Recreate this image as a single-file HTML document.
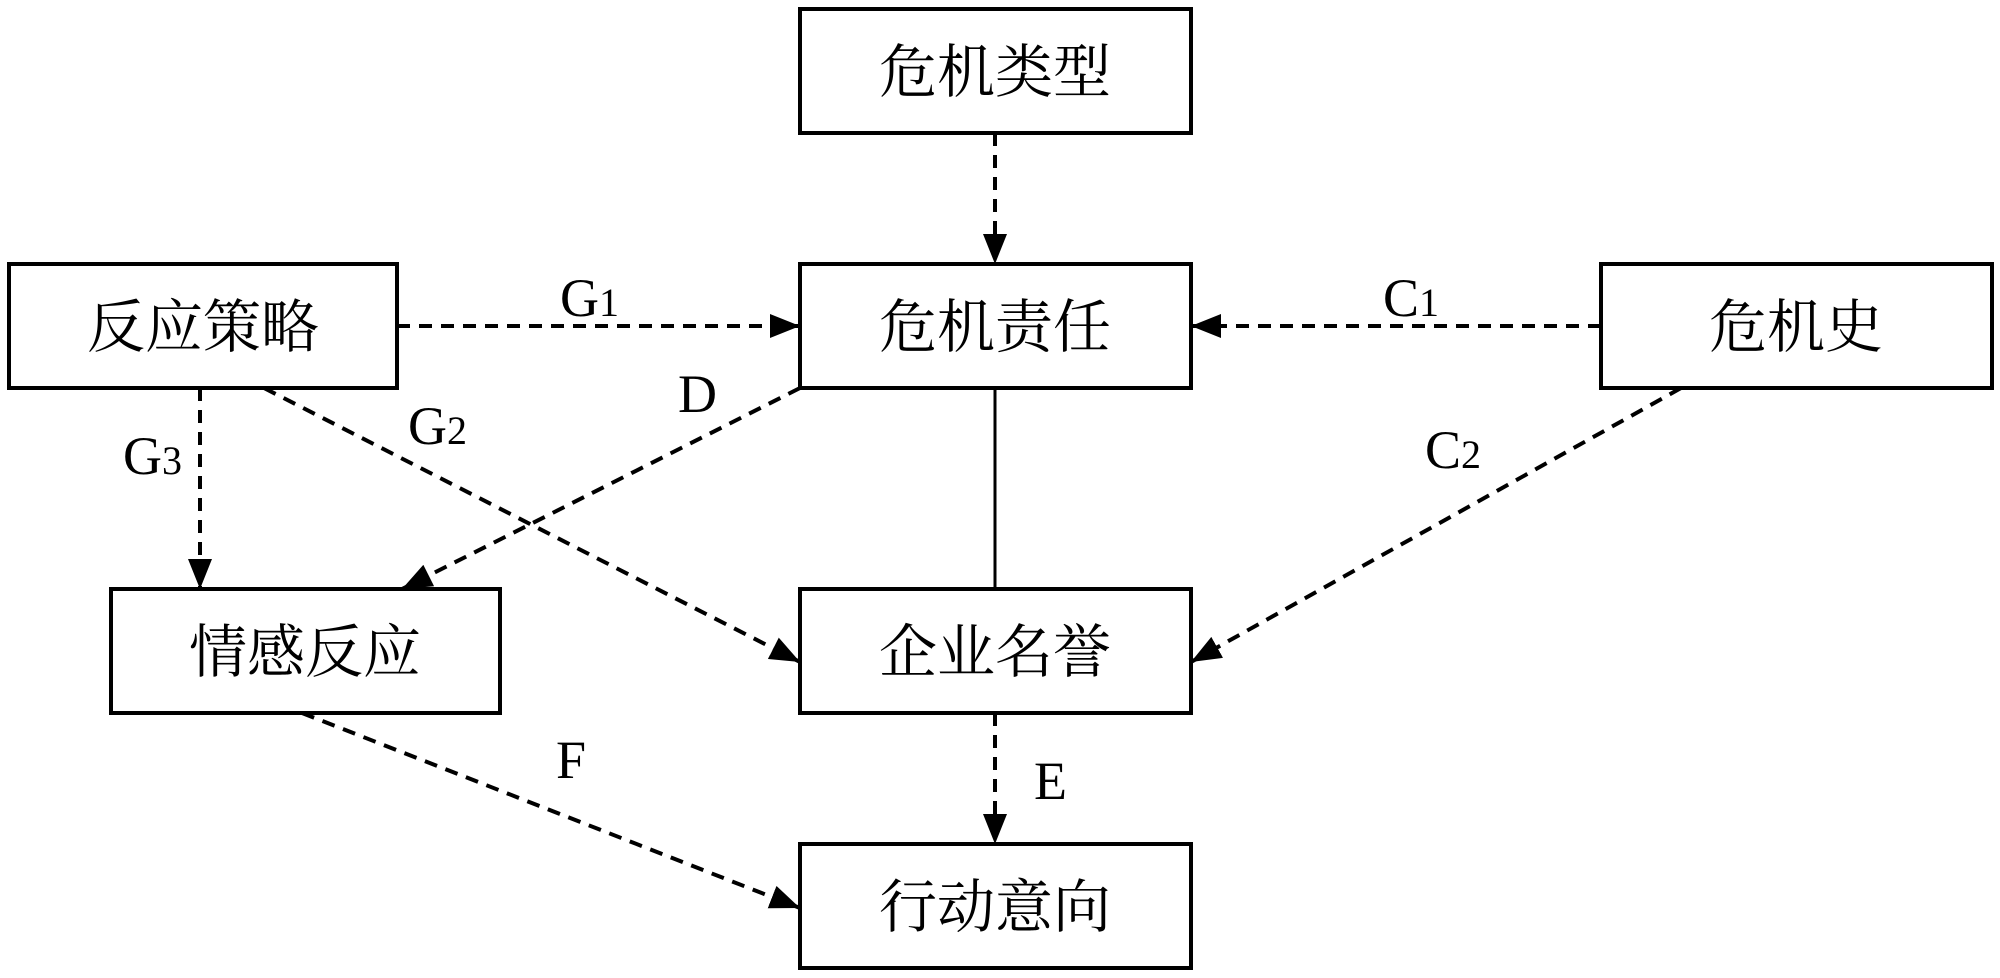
<!DOCTYPE html>
<html><head><meta charset="utf-8"><style>
html,body{margin:0;padding:0;background:#fff;}
svg{display:block;}
.cn{font-family:"Liberation Serif","Noto Serif CJK SC",serif;font-size:58px;}
.lb{font-family:"Liberation Serif",serif;font-size:54px;}
.sb{font-size:40px;}
</style></head><body>
<svg width="2000" height="978" viewBox="0 0 2000 978" xmlns="http://www.w3.org/2000/svg">
<defs>
<marker id="a" markerUnits="userSpaceOnUse" markerWidth="30" markerHeight="24" refX="30" refY="12" orient="auto">
<path d="M0,0 L30,12 L0,24 Z" fill="#000"/>
</marker>
</defs>
<g fill="#fff" stroke="#000" stroke-width="4">
<rect x="800" y="9" width="391" height="124"/>
<rect x="9" y="264" width="388" height="124"/>
<rect x="800" y="264" width="391" height="124"/>
<rect x="1601" y="264" width="391" height="124"/>
<rect x="111" y="589" width="389" height="124"/>
<rect x="800" y="589" width="391" height="124"/>
<rect x="800" y="844" width="391" height="124"/>
</g>
<g stroke="#000" stroke-width="4" stroke-dasharray="13 9" fill="none" marker-end="url(#a)">
<line x1="995" y1="133" x2="995" y2="264"/>
<line x1="397" y1="326" x2="800" y2="326"/>
<line x1="1601" y1="326" x2="1191" y2="326"/>
<line x1="200" y1="388" x2="200" y2="589"/>
<line x1="264" y1="388" x2="800" y2="662"/>
<line x1="800" y1="388" x2="402" y2="589"/>
<line x1="1681" y1="388" x2="1191" y2="662"/>
<line x1="995" y1="713" x2="995" y2="844"/>
<line x1="302" y1="713" x2="800" y2="908"/>
</g>
<line x1="995" y1="388" x2="995" y2="589" stroke="#000" stroke-width="3"/>
<g class="cn" text-anchor="middle" fill="#000">
<text x="995" y="92">危机类型</text>
<text x="203" y="347">反应策略</text>
<text x="995" y="347">危机责任</text>
<text x="1796" y="347">危机史</text>
<text x="305" y="672">情感反应</text>
<text x="995" y="672">企业名誉</text>
<text x="995" y="927">行动意向</text>
</g>
<g class="lb" fill="#000">
<text x="560" y="316">G<tspan class="sb">1</tspan></text>
<text x="1383" y="316">C<tspan class="sb">1</tspan></text>
<text x="678" y="412">D</text>
<text x="408" y="444">G<tspan class="sb">2</tspan></text>
<text x="123" y="474">G<tspan class="sb">3</tspan></text>
<text x="1425" y="468">C<tspan class="sb">2</tspan></text>
<text x="556" y="778">F</text>
<text x="1034" y="799">E</text>
</g>
</svg>
</body></html>
